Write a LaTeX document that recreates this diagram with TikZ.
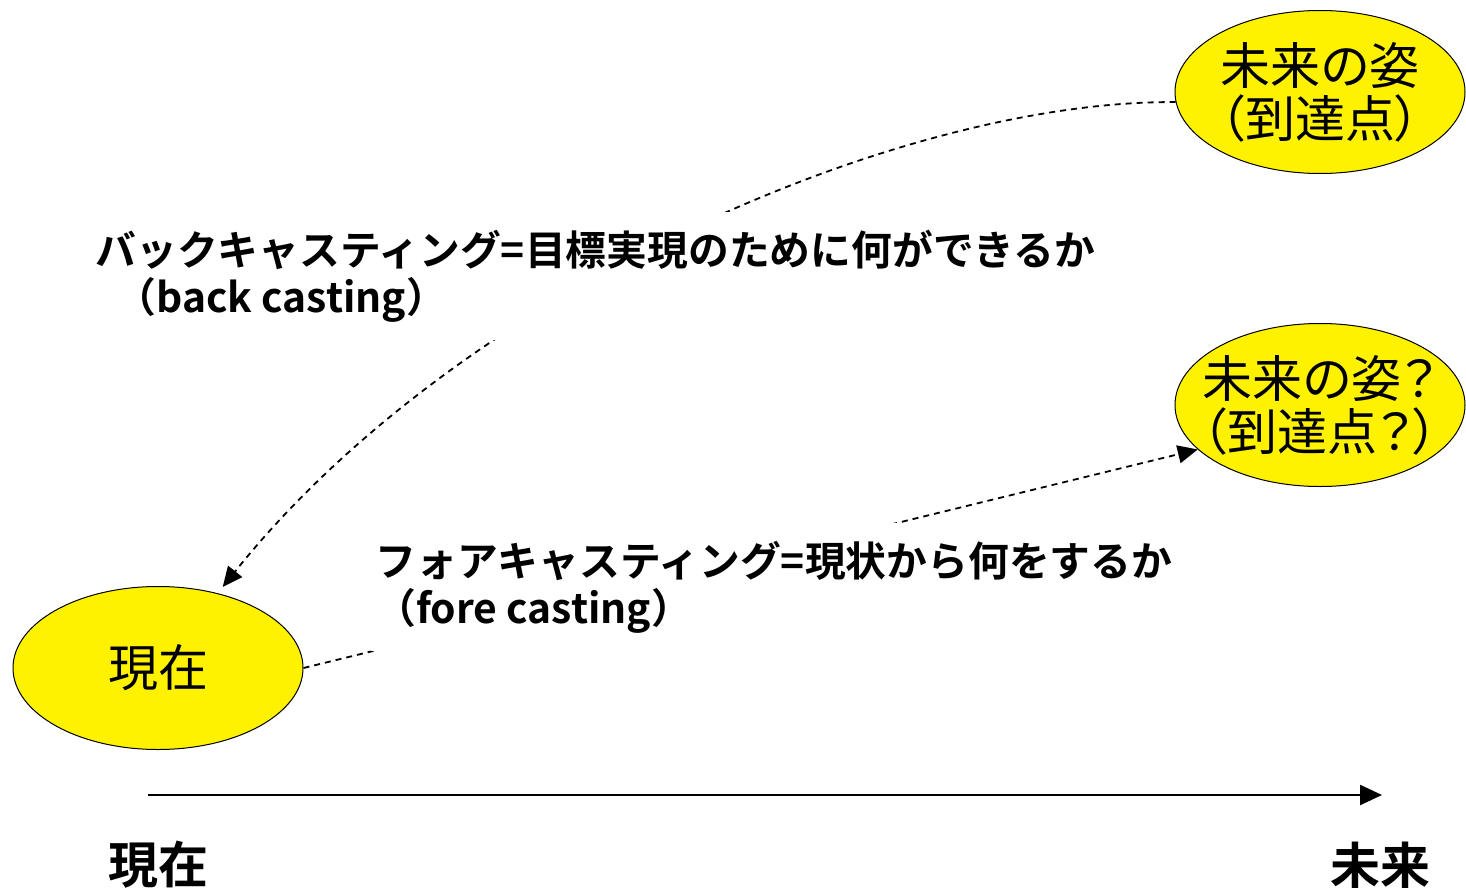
\documentclass[tikz,border=0pt]{standalone}
\usepackage{fontspec}
\setmainfont{Noto Sans CJK JP}[BoldFont={* Bold}]
\newfontfamily\ovlfont{Noto Sans CJK JP}[RawFeature=+palt]
\usetikzlibrary{arrows.meta}
\usetikzlibrary{shapes.geometric}
\tikzstyle{ovl}=[ellipse,draw=black,line width=.5pt,fill=yellow,minimum width=145pt,minimum height=81.5pt,inner xsep=-25pt,inner ysep=0pt,align=center,font=\ovlfont\fontsize{25pt}{26.5pt}\selectfont]
\tikzstyle{tiphead}=[>/.tip={Triangle[length=10pt,width=9pt]}]
\tikzstyle{axishead}=[>/.tip={Triangle[length=11pt,width=10pt]}]
\tikzstyle{cast}=[line width=.9pt,dash pattern=on 3pt off 2.5pt,tiphead,->]
\tikzstyle{axis}=[line width=1.2pt,axishead,->]
\tikzstyle{lbl}=[fill=white,inner xsep=2pt,inner ysep=9pt,align=left,font=\bfseries\fontsize{20.4pt}{23.5pt}\selectfont]
\tikzstyle{tick}=[font=\bfseries\fontsize{25pt}{25pt}\selectfont]
\begin{document}
\begin{tikzpicture}[x=.5pt,y=-.5pt]
	\useasboundingbox (0,0) rectangle (1466,888);
	\node[ovl] (now)   at (158,668)  {現在};
	\node[ovl] (goal)  at (1320,92)  {未来の姿\\（到達点）};
	\node[ovl] (goalq) at (1320,405) {未来の姿？\\（到達点？）};
	\draw[cast,shorten >=4pt] (goal.184) .. controls +(-275,-2) and +(302,-378) .. (now);
	\draw[cast] (now.east) -- (goalq.200);
	\node[lbl,anchor=west] (back) at (91,276) {バックキャスティング=目標実現のために何ができるか\\\hspace{.5em}（back casting）};
	\node[lbl,anchor=west] (fore) at (371,587) {フォアキャスティング=現状から何をするか\\（fore casting）};
	\coordinate (t0) at (148,795);
	\coordinate (t1) at (1382,795);
	\draw[axis] (t0) -- (t1);
	\node[tick] (tnow) at (158,865)  {現在};
	\node[tick] (tfut) at (1380,865) {未来};
\end{tikzpicture}
\end{document}
